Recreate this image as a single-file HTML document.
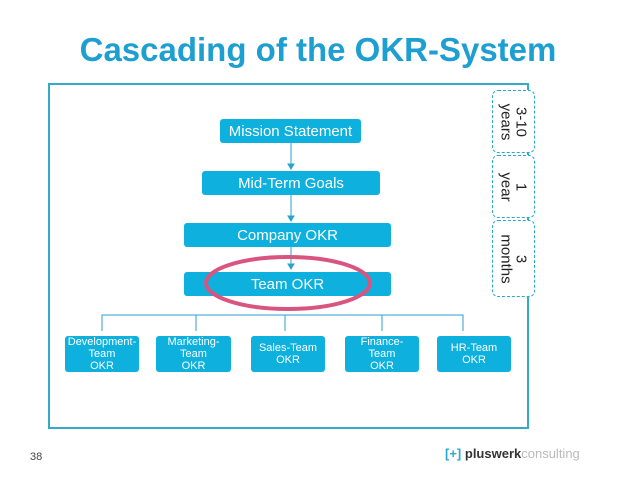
<!DOCTYPE html>
<html><head><style>
body{margin:0;width:638px;height:479px;background:#fff;position:relative;overflow:hidden;font-family:"Liberation Sans",sans-serif}
.t{position:absolute;left:0;width:636px;top:31px;text-align:center;color:#1e9fd2;font-weight:bold;font-size:33px}
.b{position:absolute;background:#0eb0dd;color:#fff;border-radius:3px;display:flex;align-items:center;justify-content:center;text-align:center}
.s{font-size:15px}
.m{font-size:11px;line-height:12px}
.v{position:absolute;border:1px dashed #2aa9cf;border-radius:6px;left:492px;width:41px;display:flex;align-items:center;justify-content:center;background:#fff}
.v span{transform:rotate(90deg);white-space:nowrap;font-size:15px;line-height:15px;text-align:center;color:#222}
</style></head><body>
<div class="t">Cascading of the OKR-System</div>
<div style="position:absolute;left:48px;top:83px;width:477px;height:342px;border:2px solid #36a9c6"></div>
<div class="b s" style="left:220px;top:119px;width:141px;height:24px">Mission Statement</div>
<div class="b s" style="left:202px;top:171px;width:178px;height:24px">Mid-Term Goals</div>
<div class="b s" style="left:184px;top:223px;width:207px;height:24px">Company OKR</div>
<div class="b s" style="left:184px;top:272px;width:207px;height:24px">Team OKR</div>
<svg style="position:absolute;left:0;top:0" width="638" height="479">
<g stroke="#2aa3cf" stroke-width="1" fill="#2aa3cf">
<line x1="291" y1="143" x2="291" y2="166"/><path d="M288,164 L294,164 L291,169Z"/>
<line x1="291" y1="195" x2="291" y2="218"/><path d="M288,216 L294,216 L291,221Z"/>
<line x1="291" y1="247" x2="291" y2="266"/><path d="M288,264 L294,264 L291,269Z"/>
<path fill="none" d="M102,331 V315 H463 V331 M196,315 V331 M285,315 V331 M382,315 V331"/>
</g>
<ellipse cx="288" cy="283" rx="82" ry="26" fill="none" stroke="#d9557f" stroke-width="4"/>
</svg>
<div class="v" style="top:90px;height:61px"><span>3-10<br>years</span></div>
<div class="v" style="top:155px;height:61px"><span>1<br>year</span></div>
<div class="v" style="top:220px;height:75px"><span>3<br>months</span></div>
<div class="b m" style="left:65px;top:336px;width:74px;height:36px">Development-<br>Team<br>OKR</div>
<div class="b m" style="left:156px;top:336px;width:75px;height:36px">Marketing-<br>Team<br>OKR</div>
<div class="b m" style="left:251px;top:336px;width:74px;height:36px">Sales-Team<br>OKR</div>
<div class="b m" style="left:345px;top:336px;width:74px;height:36px">Finance-<br>Team<br>OKR</div>
<div class="b m" style="left:437px;top:336px;width:74px;height:36px">HR-Team<br>OKR</div>
<div style="position:absolute;left:30px;top:451px;font-size:11px;color:#444">38</div>
<div style="position:absolute;left:445px;top:446px;font-size:13px;color:#333;white-space:nowrap"><span style="color:#2aa9cf;font-weight:bold">[+]</span> <b>pluswerk</b><span style="color:#bbb">consulting</span></div>
</body></html>
